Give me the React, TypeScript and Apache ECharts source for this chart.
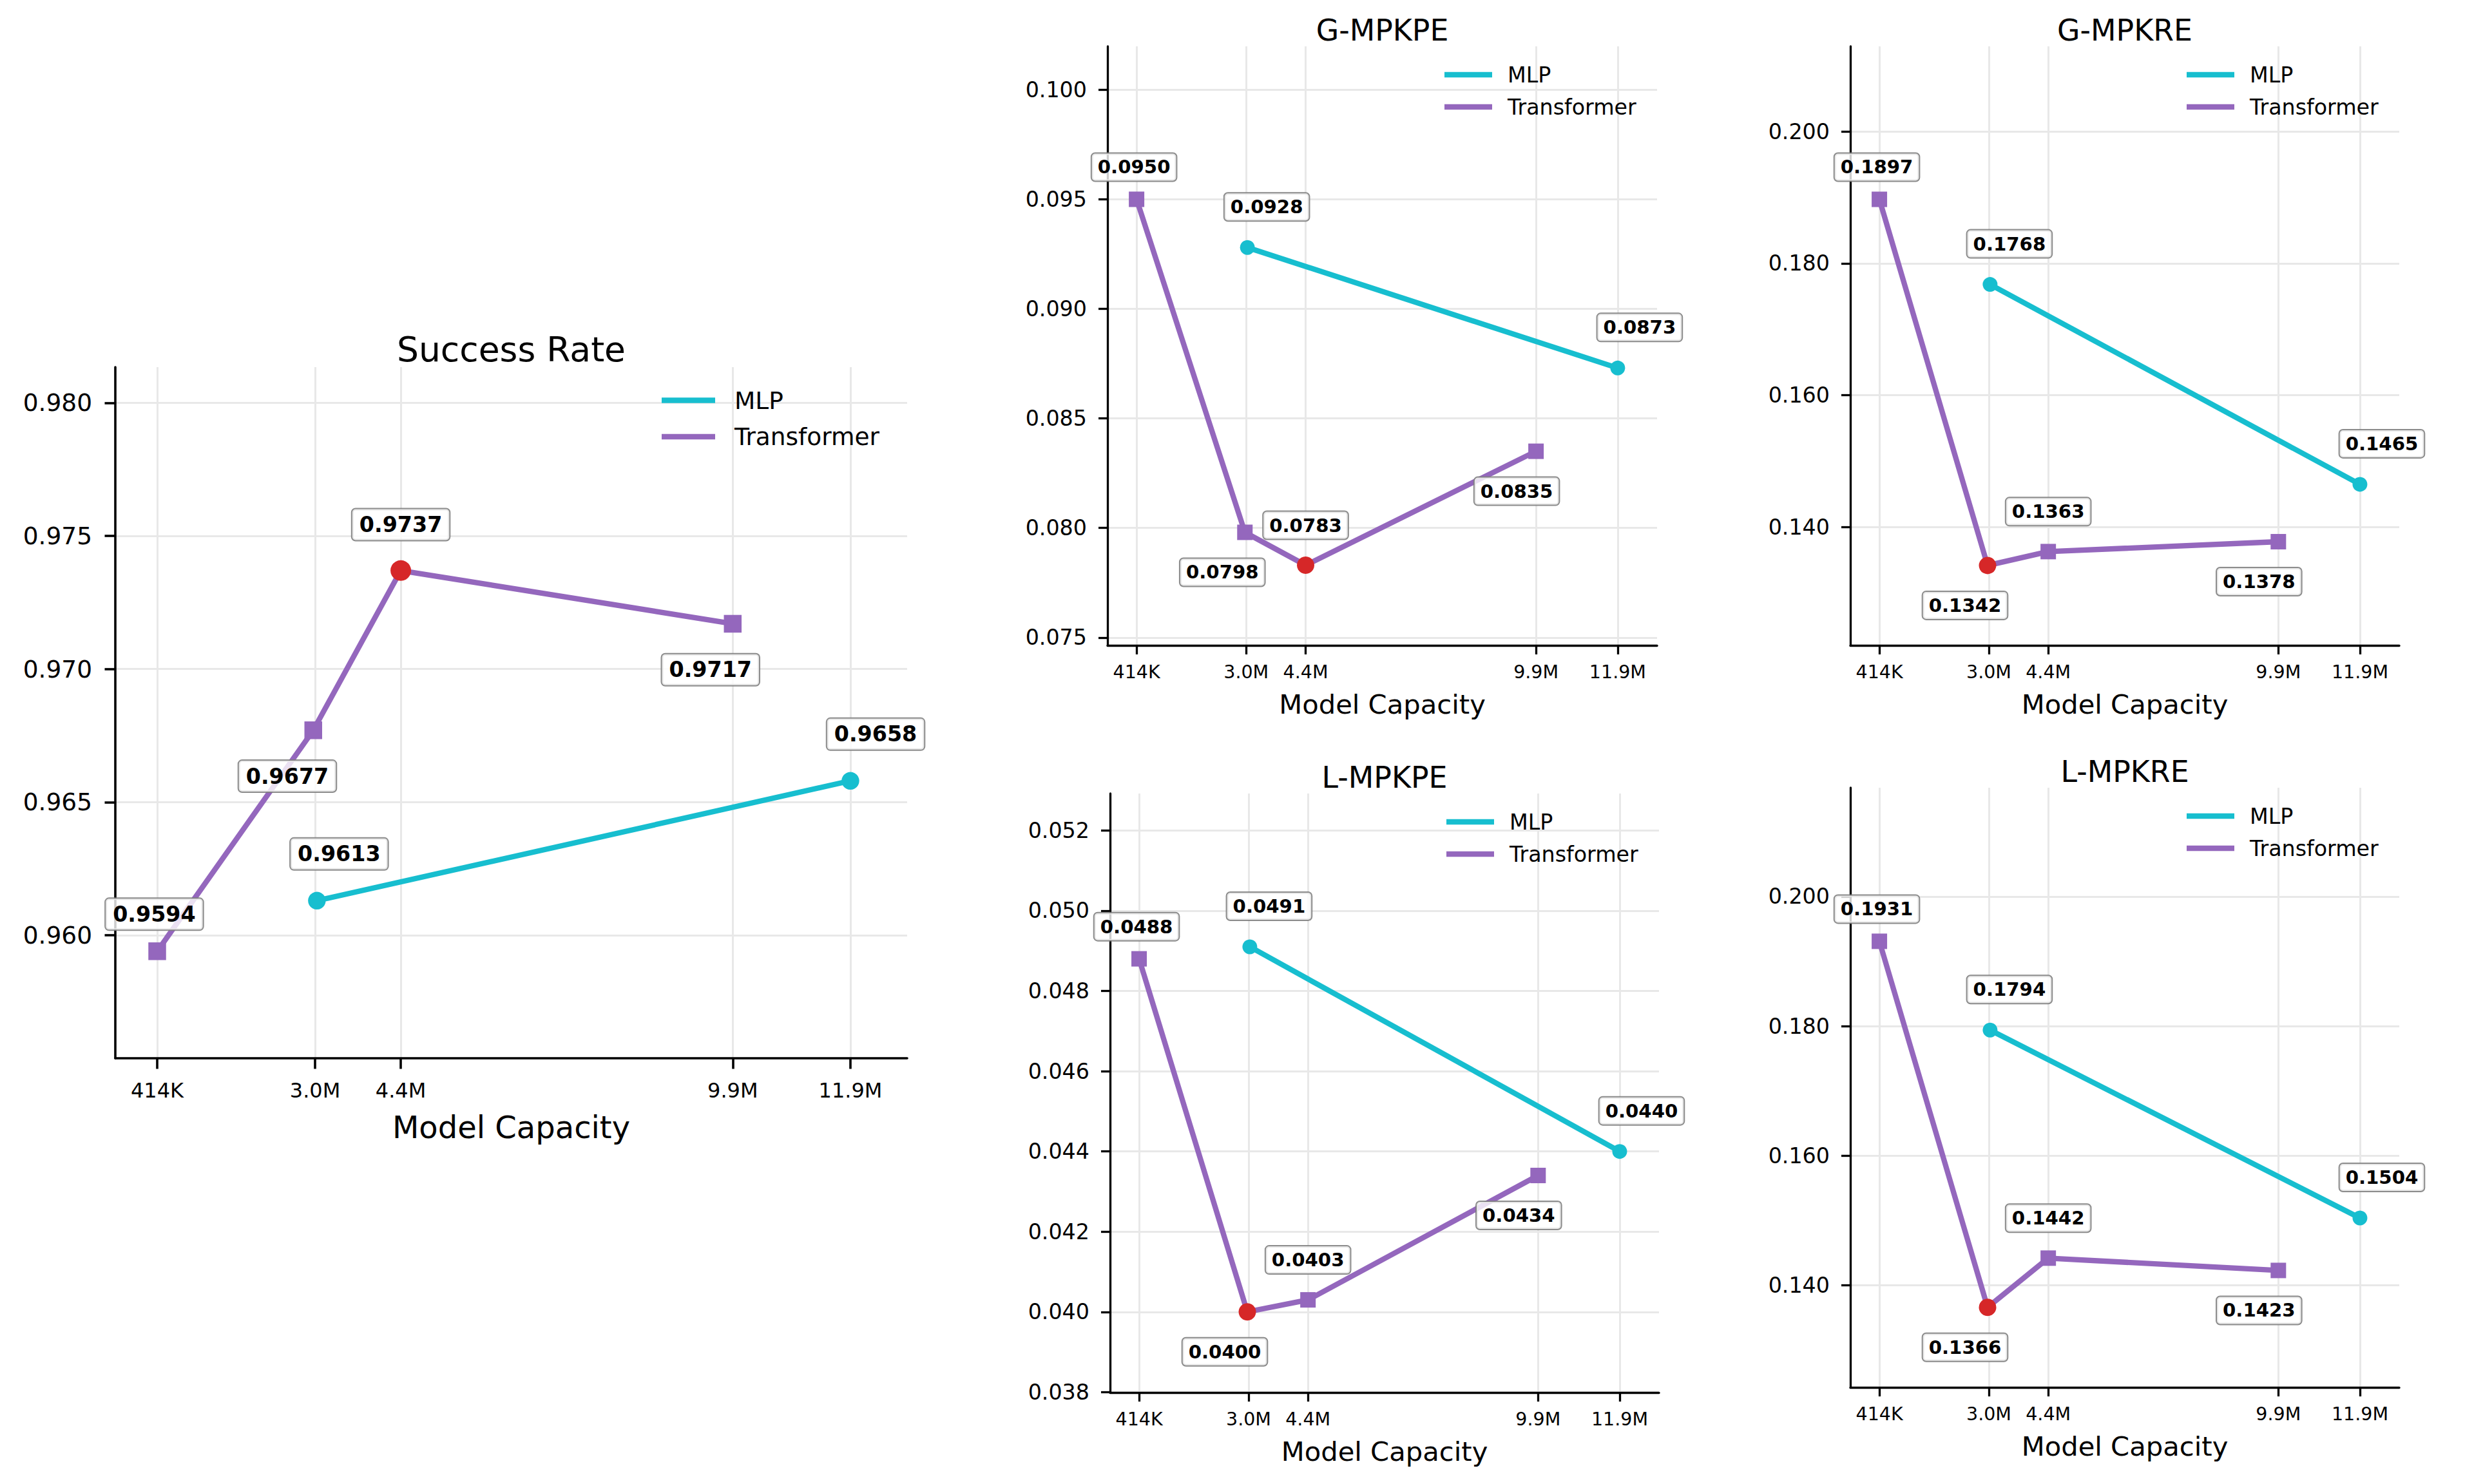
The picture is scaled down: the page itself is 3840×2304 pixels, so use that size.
import React, { useEffect, useRef } from 'react';
import * as echarts from 'echarts';

const FONT = 'DejaVu Sans';
const MLP_COLOR = '#17becf';
const TR_COLOR = '#9467bd';
const BEST_COLOR = '#d62728';

// x positions (model capacity, millions of parameters)
const X_TICKS = [0.414, 3.03, 4.45, 9.95, 11.9];
const X_TICK_LABELS = ['414K', '3.0M', '4.4M', '9.9M', '11.9M'];
const X_TRANSFORMER = [0.414, 3.0, 4.45, 9.95];
const X_MLP = [3.06, 11.9];

// series values
const SR_TRANSFORMER = [0.9594, 0.9677, 0.9737, 0.9717];
const SR_MLP = [0.9613, 0.9658];
const GKPE_TRANSFORMER = [0.095, 0.0798, 0.0783, 0.0835];
const GKPE_MLP = [0.0928, 0.0873];
const GKRE_TRANSFORMER = [0.1897, 0.1342, 0.1363, 0.1378];
const GKRE_MLP = [0.1768, 0.1465];
const LKPE_TRANSFORMER = [0.0488, 0.04, 0.0403, 0.0434];
const LKPE_MLP = [0.0491, 0.044];
const LKRE_TRANSFORMER = [0.1931, 0.1366, 0.1442, 0.1423];
const LKRE_MLP = [0.1794, 0.1504];

// y tick values
const SR_Y_TICKS = [0.96, 0.965, 0.97, 0.975, 0.98];
const GKPE_Y_TICKS = [0.075, 0.08, 0.085, 0.09, 0.095, 0.1];
const GKRE_Y_TICKS = [0.14, 0.16, 0.18, 0.2];
const LKPE_Y_TICKS = [0.038, 0.04, 0.042, 0.044, 0.046, 0.048, 0.05, 0.052];
const LKRE_Y_TICKS = [0.14, 0.16, 0.18, 0.2];

// annotation offsets (px, small panel scale)
const TR_LABEL_OFFSETS = [[-4, -50], [-35, 62], [0, -62], [-30, 62]];
const MLP_LABEL_OFFSETS = [[30, -63], [34, -63]];

const BIG = {
  yTickFont: 37.5, xTickFont: 32, tickLen: 16.5, axisW: 3.6, gridW: 3, lineW: 8.3,
  sq: 27.5, circ: 27.5, red: 32, annFont: 33.3, annLH: 38, annPad: [5, 11],
  legendFont: 37.5, legendLH: 38, legendItemW: 83, legendGap: 18.5, legendTextPad: 25,
  legendDx: 381, legendRowDy: 51.5, titleFont: 53.5, titleDy: -28, xNameFont: 48, xNameDy: 106.6,
  yLabelMargin: 36, xLabelMargin: 33.5, xLabelLH: 32, offScale: 1.15,
};
const SMALL = {
  yTickFont: 33.3, xTickFont: 28.5, tickLen: 14, axisW: 3.3, gridW: 3, lineW: 8.3,
  sq: 24, circ: 23, red: 27, annFont: 29.2, annLH: 32, annPad: [5, 9],
  legendFont: 33.3, legendLH: 34, legendItemW: 74, legendGap: 16, legendTextPad: 19,
  legendDx: 330, legendRowDy: 44, titleFont: 45.8, titleDy: -25, xNameFont: 41.7, xNameDy: 91.5,
  yLabelMargin: 32, xLabelMargin: 27.7, xLabelLH: 28.5, offScale: 1,
};

const PANELS = [
  { title: 'Success Rate', tr: SR_TRANSFORMER, mlp: SR_MLP, yTicks: SR_Y_TICKS, yMin: 0.95538, yMax: 0.98134, best: 'max', rect: { left: 179, top: 570, width: 1229, height: 1073 }, st: BIG },
  { title: 'G-MPKPE', tr: GKPE_TRANSFORMER, mlp: GKPE_MLP, yTicks: GKPE_Y_TICKS, yMin: 0.07464, yMax: 0.10198, best: 'min', rect: { left: 1719, top: 72, width: 853, height: 930 }, st: SMALL },
  { title: 'G-MPKRE', tr: GKRE_TRANSFORMER, mlp: GKRE_MLP, yTicks: GKRE_Y_TICKS, yMin: 0.12208, yMax: 0.21289, best: 'min', rect: { left: 2872, top: 72, width: 852, height: 930 }, st: SMALL },
  { title: 'L-MPKPE', tr: LKPE_TRANSFORMER, mlp: LKPE_MLP, yTicks: LKPE_Y_TICKS, yMin: 0.03799, yMax: 0.05292, best: 'min', rect: { left: 1723, top: 1232, width: 852, height: 930 }, st: SMALL },
  { title: 'L-MPKRE', tr: LKRE_TRANSFORMER, mlp: LKRE_MLP, yTicks: LKRE_Y_TICKS, yMin: 0.12425, yMax: 0.2168, best: 'min', rect: { left: 2872, top: 1223, width: 852, height: 931 }, st: SMALL },
];

function xLabel(v: number): string {
  let best = 0;
  let d = Infinity;
  X_TICKS.forEach((t, i) => {
    if (Math.abs(t - v) < d) { d = Math.abs(t - v); best = i; }
  });
  return X_TICK_LABELS[best];
}

function buildOption() {
  const grid: any[] = [];
  const xAxis: any[] = [];
  const yAxis: any[] = [];
  const series: any[] = [];
  const legend: any[] = [];
  const elements: any[] = [];

  PANELS.forEach((p, i) => {
    const st = p.st;
    const r = p.rect;
    grid.push({ left: r.left, top: r.top, width: r.width, height: r.height, containLabel: false, outerBoundsMode: 'none' });

    const axisCommon = {
      axisLine: { show: true, onZero: false, lineStyle: { color: '#000', width: st.axisW } },
      splitLine: { show: true, lineStyle: { color: '#e8e8e8', width: st.gridW } },
    };
    xAxis.push({
      type: 'value', gridIndex: i, min: -0.28, max: 12.84,
      ...axisCommon,
      axisTick: { show: true, inside: false, length: st.tickLen, lineStyle: { color: '#000', width: st.axisW }, customValues: X_TICKS },
      axisLabel: {
        show: true, customValues: X_TICKS, formatter: (v: number) => xLabel(v), margin: st.xLabelMargin,
        fontSize: st.xTickFont, lineHeight: st.xLabelLH, fontFamily: FONT, color: '#000', hideOverlap: false,
      },
    });
    yAxis.push({
      type: 'value', gridIndex: i, min: p.yMin, max: p.yMax,
      ...axisCommon,
      axisTick: { show: true, inside: false, length: st.tickLen, lineStyle: { color: '#000', width: st.axisW }, customValues: p.yTicks },
      axisLabel: {
        show: true, customValues: p.yTicks, formatter: (v: number) => v.toFixed(3), margin: st.yLabelMargin,
        fontSize: st.yTickFont, fontFamily: FONT, color: '#000', hideOverlap: false,
      },
    });

    const labelBase = {
      show: true, position: 'inside', align: 'center', verticalAlign: 'middle',
      formatter: (q: any) => Number(q.value[1]).toFixed(4),
      fontFamily: FONT, fontWeight: 'bold', fontSize: st.annFont, lineHeight: st.annLH, color: '#000',
      textBorderWidth: 0, textBorderColor: 'transparent',
      backgroundColor: 'rgba(255,255,255,0.8)', borderColor: 'rgba(128,128,128,0.9)', borderWidth: 2,
      borderRadius: 5, padding: st.annPad,
    };
    const sc = (o: number[]) => [o[0] * st.offScale, o[1] * st.offScale];

    const bestVal = p.best === 'max' ? Math.max(...p.tr) : Math.min(...p.tr);
    const bestIdx = p.tr.indexOf(bestVal);

    series.push({
      type: 'line', name: 'MLP', xAxisIndex: i, yAxisIndex: i, clip: false, z: 2,
      data: X_MLP.map((x, j) => ({ value: [x, p.mlp[j]], label: { offset: sc(MLP_LABEL_OFFSETS[j]) } })),
      symbol: 'circle', symbolSize: st.circ, showAllSymbol: true,
      lineStyle: { color: MLP_COLOR, width: st.lineW },
      itemStyle: { color: MLP_COLOR, borderWidth: 0 },
      label: labelBase,
      emphasis: { disabled: true },
    });
    series.push({
      type: 'line', name: 'Transformer', xAxisIndex: i, yAxisIndex: i, clip: false, z: 3,
      data: X_TRANSFORMER.map((x, j) => {
        const item: any = { value: [x, p.tr[j]], label: { offset: sc(TR_LABEL_OFFSETS[j]) } };
        if (j === bestIdx) {
          item.symbol = 'circle';
          item.symbolSize = st.red;
          item.itemStyle = { color: BEST_COLOR, borderWidth: 0 };
        }
        return item;
      }),
      symbol: 'rect', symbolSize: st.sq, showAllSymbol: true,
      lineStyle: { color: TR_COLOR, width: st.lineW },
      itemStyle: { color: TR_COLOR, borderWidth: 0 },
      label: labelBase,
      emphasis: { disabled: true },
    });

    legend.push({
      show: true, orient: 'vertical', selectedMode: false, padding: 0,
      left: r.left + r.width - st.legendDx,
      top: r.top + st.legendRowDy - st.legendLH / 2,
      itemWidth: st.legendItemW, itemHeight: 8.3, itemGap: st.legendGap,
      itemStyle: { borderWidth: 0 },
      data: [{ name: 'MLP', icon: 'rect' }, { name: 'Transformer', icon: 'rect' }],
      textStyle: { fontFamily: FONT, fontSize: st.legendFont, lineHeight: st.legendLH, color: '#000', padding: [0, 0, 0, st.legendTextPad] },
    });

    elements.push({
      type: 'text', x: r.left + r.width / 2, y: r.top + st.titleDy,
      style: { text: p.title, fontFamily: FONT, fontSize: st.titleFont, fill: '#000', align: 'center', verticalAlign: 'middle', textAlign: 'center', textVerticalAlign: 'middle' },
    });
    elements.push({
      type: 'text', x: r.left + r.width / 2, y: r.top + r.height + st.xNameDy,
      style: { text: 'Model Capacity', fontFamily: FONT, fontSize: st.xNameFont, fill: '#000', align: 'center', verticalAlign: 'middle', textAlign: 'center', textVerticalAlign: 'middle' },
    });
  });

  return {
    animation: false,
    backgroundColor: '#ffffff',
    grid, xAxis, yAxis, series, legend,
    graphic: { elements },
  };
}

export default function App() {
  const ref = useRef<HTMLDivElement>(null);
  useEffect(() => {
    if (!ref.current) return;
    const chart = echarts.init(ref.current, undefined, { renderer: 'svg', width: 3840, height: 2304 });
    chart.setOption(buildOption() as any);
    return () => { chart.dispose(); };
  }, []);
  return (
    <div
      ref={ref}
      style={{ position: 'fixed', left: 0, top: 0, width: '3840px', height: '2304px', background: '#fff' }}
    />
  );
}
